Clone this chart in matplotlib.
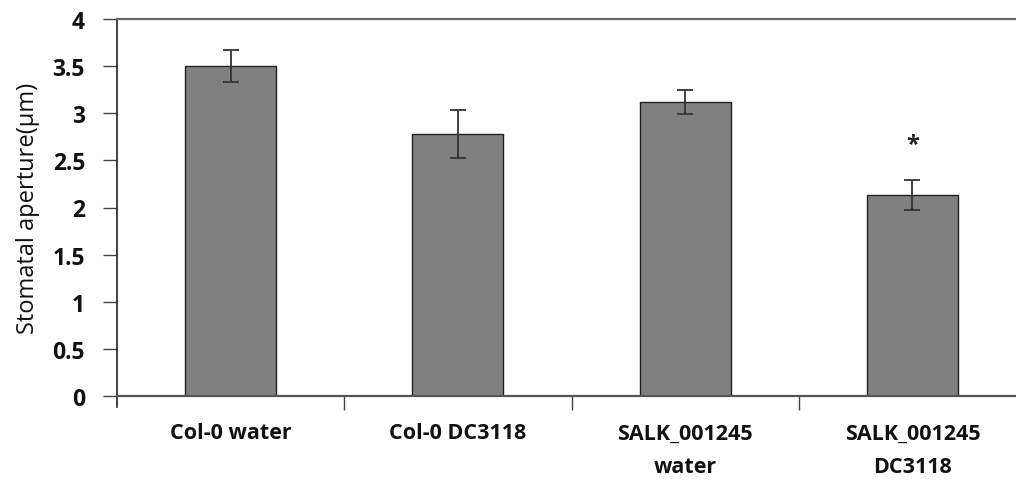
import matplotlib
matplotlib.use("Agg")
import matplotlib.pyplot as plt

categories = ["Col-0 water", "Col-0 DC3118", "SALK_001245\nwater", "SALK_001245\nDC3118"]
values = [3.50, 2.78, 3.12, 2.13]
errors = [0.17, 0.25, 0.125, 0.16]
signif = ["", "", "", "*"]
yticks = [0, 0.5, 1, 1.5, 2, 2.5, 3, 3.5, 4]
ytick_labels = ["0", "0.5", "1", "1.5", "2", "2.5", "3", "3.5", "4"]

plt.rcParams['font.family'] = ['Open Sans', 'DejaVu Sans']

fig = plt.figure(figsize=(10.16, 4.81), dpi=100)
ax = fig.add_axes([117/1016, 84/481, 909/1016, 377/481])

x = list(range(len(categories)))
ax.bar(x, values, width=0.4, color="#808080", edgecolor="#222222", linewidth=1.0, zorder=2)
ax.errorbar(x, values, yerr=errors, fmt="none", ecolor="#333333", elinewidth=1.3,
            capsize=6, capthick=1.3, zorder=3)
for xi, v, e, s in zip(x, values, errors, signif):
    if s:
        ax.text(xi, v + e + 0.38, s, ha="center", va="center", fontsize=17,
                fontweight="bold", color="#222222")

ax.set_xlim(-0.5, 3.5)
ax.set_ylim(0, 4)
ax.set_yticks(yticks)
ax.set_yticklabels(ytick_labels, fontsize=16.5, fontweight="bold", color="#111111")
ax.set_xticks([0.5, 1.5, 2.5], minor=False)
ax.set_xticklabels([])
ax.set_xticks(x, minor=True)
ax.set_xticklabels(categories, minor=True, fontsize=15.5, fontweight="bold",
                   linespacing=1.8, color="#111111")
ax.tick_params(axis="x", which="minor", length=0, pad=19)
ax.tick_params(axis="x", which="major", length=10, width=1, color="#444444", direction="out")
ax.tick_params(axis="y", length=10, width=1, color="#444444", direction="out", pad=13)

ax.spines["left"].set_color("#222222")
ax.spines["left"].set_linewidth(1.2)
ax.spines["bottom"].set_color("#555555")
ax.spines["bottom"].set_linewidth(1.6)
ax.spines["top"].set_color("#666666")
ax.spines["top"].set_linewidth(1.6)
ax.spines["right"].set_visible(False)
ax.spines["left"].set_bounds(-0.12, 4)
ax.set_ylim(0, 4)

ax.set_ylabel("Stomatal aperture(μm)", fontsize=17, color="#111111")
ax.yaxis.set_label_coords(-0.085, 0.5)

fig.savefig("out.png", dpi=100)
